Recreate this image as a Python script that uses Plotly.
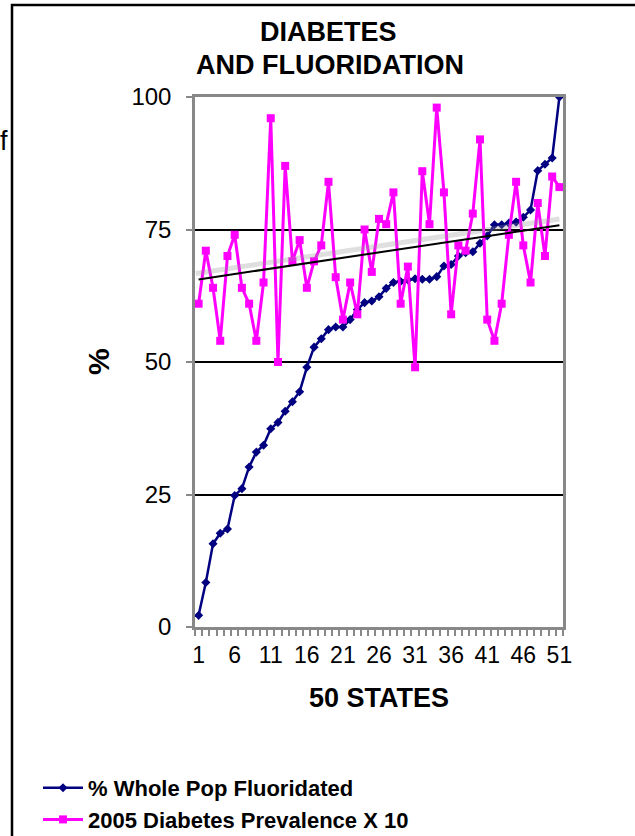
import numpy as np
import plotly.graph_objects as go

states = list(range(1, 52))
fluoridated = [2.2, 8.4, 15.7, 17.7, 18.5, 24.8, 26.1, 30.2, 33.0, 34.3,
               37.4, 38.6, 40.7, 42.5, 44.4, 49.0, 52.8, 54.4, 56.1, 56.6,
               56.6, 58.0, 59.9, 61.2, 61.5, 62.3, 63.9, 65.0, 65.2, 65.5,
               65.7, 65.6, 65.6, 66.1, 68.1, 68.4, 70.0, 70.6, 70.8, 72.4,
               73.8, 75.9, 75.9, 76.2, 76.4, 77.3, 78.7, 86.1, 87.3, 88.5, 100.0]
diabetes_x10 = [61, 71, 64, 54, 70, 74, 64, 61, 54, 65,
                96, 50, 87, 69, 73, 64, 69, 72, 84, 66,
                58, 65, 59, 75, 67, 77, 76, 82, 61, 68,
                49, 86, 76, 98, 82, 59, 72, 71, 78, 92,
                58, 54, 61, 74, 84, 72, 65, 80, 70, 85, 83]
x_tick_vals = [1, 6, 11, 16, 21, 26, 31, 36, 41, 46, 51]
y_tick_vals = [0, 25, 50, 75, 100]

FONT = "Liberation Sans, Arial, sans-serif"

slope, intercept = np.polyfit(states, diabetes_x10, 1)
trend_x = np.array([states[0], states[-1]])
trend_y = slope * trend_x + intercept
shadow_x = np.array([0.6, states[-1]])
shadow_y = slope * shadow_x + intercept + 1.2

fig = go.Figure()
fig.add_trace(go.Scatter(
    x=states, y=fluoridated, mode="lines+markers",
    name="<b>% Whole Pop Fluoridated</b>",
    line=dict(color="#000080", width=2.5),
    marker=dict(symbol="diamond", size=7, color="#000080"),
))
fig.add_trace(go.Scatter(
    x=states, y=diabetes_x10, mode="lines+markers",
    name="<b>2005 Diabetes Prevalence X 10</b>",
    line=dict(color="#FF00FF", width=3),
    marker=dict(symbol="square", size=8, color="#FF00FF"),
))
fig.add_trace(go.Scatter(
    x=shadow_x, y=shadow_y, mode="lines", showlegend=False, hoverinfo="skip",
    line=dict(color="rgba(150,150,150,0.3)", width=5),
))
fig.add_trace(go.Scatter(
    x=trend_x, y=trend_y, mode="lines", showlegend=False, hoverinfo="skip",
    line=dict(color="black", width=2),
))

L, R, T, B = 195, 72, 97, 209
W, H = 635, 836
pw, ph = W - L - R, H - T - B


def px(x):
    return (x - L) / pw


def py(y):
    return (H - B - y) / ph


fig.update_layout(
    width=W, height=H,
    margin=dict(l=L, r=R, t=T, b=B, pad=0, autoexpand=False),
    paper_bgcolor="white", plot_bgcolor="white",
    font=dict(family=FONT, color="black"),
    showlegend=True,
    legend=dict(
        xref="container", yref="container",
        x=38 / W, y=1 - 767 / H, xanchor="left", yanchor="top",
        font=dict(family=FONT, size=22, color="black"),
        bgcolor="rgba(0,0,0,0)", itemwidth=40, tracegroupgap=0,
    ),
    xaxis=dict(
        range=[0.5, 51.5], tickmode="array", tickvals=x_tick_vals,
        ticktext=[str(v) for v in x_tick_vals], ticks="",
        tickfont=dict(size=23, family=FONT, color="black"),
        showgrid=False, zeroline=False, automargin=False,
        showline=True, linecolor="#888888", linewidth=2.5, mirror=True,
        ticklabelstandoff=6,
        minor=dict(tickmode="linear", tick0=0.5, dtick=1, ticks="outside",
                   ticklen=6, tickwidth=2, tickcolor="#888888", showgrid=False),
    ),
    yaxis=dict(
        range=[0, 100], tickmode="array", tickvals=y_tick_vals,
        ticks="outside", ticklen=6, tickwidth=2, tickcolor="#888888",
        tickfont=dict(size=24, family=FONT, color="black"),
        showgrid=True, gridcolor="black", gridwidth=2, zeroline=False,
        showline=True, linecolor="#888888", linewidth=2.5, mirror=True,
        ticklabelstandoff=10, automargin=False,
    ),
    annotations=[
        dict(text="<b>DIABETES</b>", xref="paper", yref="paper", x=px(328), y=py(32),
             xanchor="center", yanchor="middle", showarrow=False,
             font=dict(size=27, family=FONT, color="black")),
        dict(text="<b>AND FLUORIDATION</b>", xref="paper", yref="paper", x=px(330), y=py(65),
             xanchor="center", yanchor="middle", showarrow=False,
             font=dict(size=27, family=FONT, color="black")),
        dict(text="<b>50 STATES</b>", xref="paper", yref="paper", x=px(379), y=py(698),
             xanchor="center", yanchor="middle", showarrow=False,
             font=dict(size=27, family=FONT, color="black")),
        dict(text="<b>%</b>", xref="paper", yref="paper", x=px(98), y=py(362),
             xanchor="center", yanchor="middle", showarrow=False, textangle=-90,
             font=dict(size=30, family=FONT, color="black")),
        dict(text="f", xref="paper", yref="paper", x=px(-2), y=py(141),
             xanchor="left", yanchor="middle", showarrow=False,
             font=dict(size=27, family=FONT, color="black")),
    ],
    shapes=[
        dict(type="rect", xref="paper", yref="paper",
             x0=px(12), x1=px(650), y0=py(850), y1=py(5),
             line=dict(color="black", width=2.5), fillcolor="rgba(0,0,0,0)",
             layer="above"),
    ],
)

fig.write_html("out.html")
